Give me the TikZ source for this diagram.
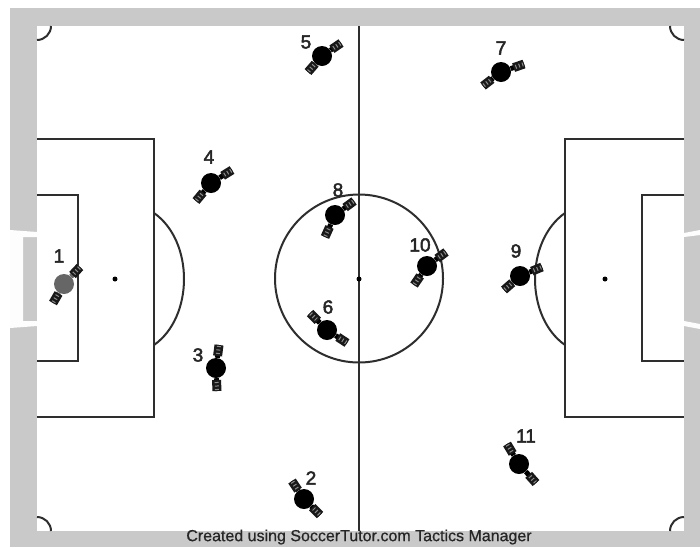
\documentclass[tikz,border=0pt]{standalone}
\usepackage{fontspec}
\setmainfont{Liberation Sans}
\newfontfamily\numfont[FakeBold=2.5]{Liberation Sans}
\newfontfamily\creditfont[FakeBold=0.6]{Liberation Sans}
\usetikzlibrary{calc, positioning}

\definecolor{framegrey}{HTML}{C9C9C9}
\definecolor{pitchline}{HTML}{2E2E2E}

\begin{document}
\begin{tikzpicture}[
    x=1pt, y=-1pt,
    pline/.style={draw=pitchline, line width=2pt},
    spot/.style={circle, fill=black, inner sep=0pt, minimum size=5pt},
    player/.style={circle, fill=black, inner sep=0pt, minimum size=20pt},
    arm/.style={line width=5pt},
    cuff/.style={line width=9pt, black!90},
    stripe/.style={line width=4pt, white!55!black, dash pattern=on 1pt off 2.5pt},
    num/.style={font=\fontsize{19}{19}\numfont, text=black!85, inner sep=0pt},
]
\useasboundingbox (0,0) rectangle (700,547);

% surround and pitch
\fill[framegrey] (10,8) rectangle (700,547);
\fill[white] (37,26) rectangle (684,531);

% goals
\fill[white!96!framegrey] (10,230) -- (37,232) -- (37,237) -- (23,237) -- (23,321) -- (37,321)
    -- (37,326) -- (10,328) -- cycle;
\fill[white!96!framegrey] (684,233) -- (700,230) -- (700,235) -- (684,237) -- cycle;
\fill[white!96!framegrey] (684,321) -- (700,324) -- (700,329) -- (684,326) -- cycle;

% corner arcs
\draw[pline] (37,40) arc[start angle=90, end angle=0, radius=14];
\draw[pline] (670,26) arc[start angle=180, end angle=90, radius=14];
\draw[pline] (37,517) arc[start angle=-90, end angle=0, radius=14];
\draw[pline] (670,531) arc[start angle=180, end angle=270, radius=14];

% halfway line and centre circle
\draw[pline] (359,26) -- (359,531);
\draw[pline] (359,278.5) circle[radius=84];
\node[spot] (cspot) at (359,279) {};

% left end
\draw[pline] (37,139) -- (154,139) -- (154,417) -- (37,417);
\draw[pline] (37,195) -- (78,195) -- (78,361) -- (37,361);
\draw[pline] (154,213) .. controls (194,241) and (194,317) .. (154,345);
\node[spot] (lspot) at (115,279) {};

% right end
\draw[pline] (684,139) -- (565,139) -- (565,417) -- (684,417);
\draw[pline] (684,195) -- (642,195) -- (642,361) -- (684,361);
\draw[pline] (565,213) .. controls (525,241) and (525,317) .. (565,345);
\node[spot] (rspot) at (605,279) {};

% players: number / colour / centre / hand a / hand b / label
\foreach \n/\col/\x/\y/\ax/\ay/\bx/\by/\lx/\ly in {
    1/black!60/64/284/80/267/53/303/59/256,
    2/black/304/499/292/481/320/515/311/478,
    3/black/216/368/219/345/217/391/198/355,
    4/black/211/183/232/170/196/201/209/157,
    5/black/322/56/341/43/308/72/306/42,
    6/black/327/330/310/313/347/343/328/307,
    7/black/501/72/524/64/483/86/501/48,
    8/black/335/215/354/201/325/237/338/190,
    9/black/520/276/542/267/504/290/516/251,
    10/black/427/266/446/252/414/285/420/245,
    11/black/519/464/507/444/536/483/526/436}{
  \coordinate (a\n) at (\ax,\ay);
  \coordinate (b\n) at (\bx,\by);
  \node[player, fill=\col] (p\n) at (\x,\y) {};
  \draw[arm, draw=\col] (p\n) -- (a\n);
  \draw[arm, draw=\col] (p\n) -- (b\n);
  \draw[cuff] ($(a\n)!11pt!(p\n)$) -- (a\n);
  \draw[cuff] ($(b\n)!11pt!(p\n)$) -- (b\n);
  \draw[stripe] ($(a\n)!9pt!(p\n)$) -- (a\n);
  \draw[stripe] ($(b\n)!9pt!(p\n)$) -- (b\n);
  \node[num] (n\n) at (\lx,\ly) {\n};
}

\node[font=\fontsize{16}{16}\creditfont, text=black!85, inner sep=0pt] (credit) at (359,537)
    {Created using SoccerTutor.com Tactics Manager};
\end{tikzpicture}
\end{document}
